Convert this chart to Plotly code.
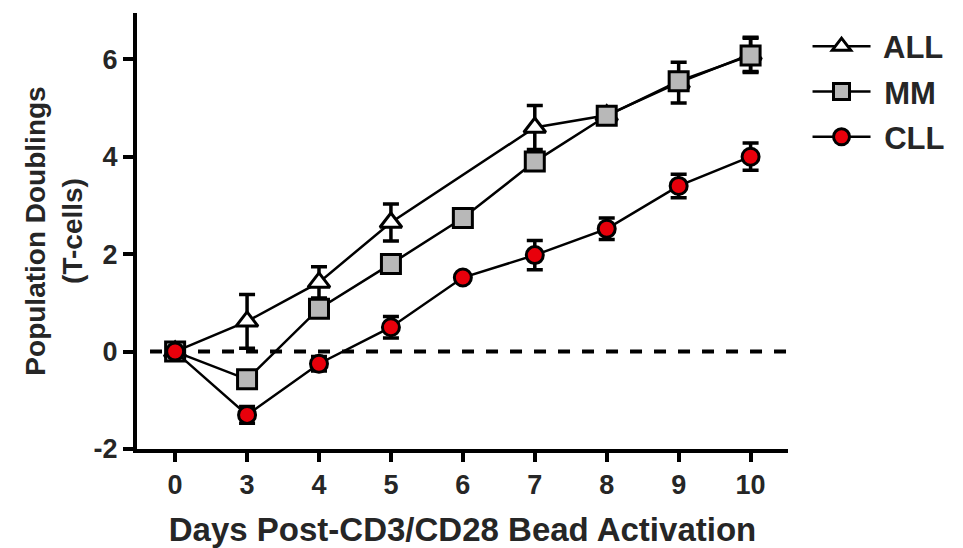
import plotly.graph_objects as go

days = ["0", "3", "4", "5", "6", "7", "8", "9", "10"]
all_vals = [0.0, 0.62, 1.42, 2.65, None, 4.6, 4.85, 5.52, 6.1]
all_err = [0.0, 0.55, 0.32, 0.38, None, 0.45, 0.0, 0.42, 0.35]
mm_vals = [0.0, -0.57, 0.88, 1.8, 2.74, 3.9, 4.84, 5.55, 6.08]
mm_err = [0.0, 0.0, 0.0, 0.0, 0.0, 0.0, 0.0, 0.0, 0.35]
cll_vals = [0.0, -1.3, -0.25, 0.5, 1.52, 1.98, 2.52, 3.4, 4.0]
cll_err = [0.0, 0.17, 0.15, 0.22, 0.08, 0.3, 0.22, 0.24, 0.28]

y_ticks = [-2, 0, 2, 4, 6]

idx = list(range(len(days)))

def xs(vals):
    return [i for i, v in zip(idx, vals) if v is not None]

def ys(vals):
    return [v for v in vals if v is not None]

def es(vals, errs):
    return [e for v, e in zip(vals, errs) if v is not None]

FONT = "Liberation Sans, Arial, sans-serif"
TXT = "#262626"

fig = go.Figure()

fig.add_shape(type="line", xref="paper", yref="y", x0=0.02, x1=1.0, y0=0, y1=0,
              line=dict(color="black", width=4, dash="dash"), layer="below")

series = [
    ("ALL", all_vals, all_err, dict(symbol="triangle-up", size=19, color="white",
                                     line=dict(color="black", width=3))),
    ("MM", mm_vals, mm_err, dict(symbol="square", size=19, color="#b8b8b8",
                                  line=dict(color="black", width=3))),
    ("CLL", cll_vals, cll_err, dict(symbol="circle", size=17, color="#e8000b",
                                     line=dict(color="black", width=3))),
]

for name, vals, errs, mk in series:
    fig.add_trace(go.Scatter(
        x=xs(vals), y=ys(vals), name=" " + name, mode="lines+markers",
        legendgroup=name,
        line=dict(color="black", width=2.5),
        marker=mk,
        error_y=dict(type="data", array=es(vals, errs), visible=True,
                     color="black", thickness=3.5, width=8),
        connectgaps=True,
    ))

fig.update_layout(
    width=963, height=548,
    margin=dict(l=137, r=175, t=13, b=99, autoexpand=False),
    paper_bgcolor="white", plot_bgcolor="white",
    font=dict(family=FONT, color=TXT, size=27),
    showlegend=True,
    legend=dict(x=1.03, y=0.985, xanchor="left", yanchor="top",
                font=dict(size=31, color=TXT, family=FONT, weight="bold"),
                itemwidth=58,
                tracegroupgap=2, bgcolor="rgba(0,0,0,0)"),
    xaxis=dict(
        range=[-0.53, 8.52], tickmode="array", tickvals=idx, ticktext=days,
        showline=True, linecolor="black", linewidth=4, automargin=False,
        ticks="outside", ticklen=9, tickwidth=3.5, tickcolor="black",
        showgrid=False, zeroline=False,
        tickfont=dict(size=27, color=TXT, weight="bold"),
        title=dict(text="Days Post-CD3/CD28 Bead Activation",
                   font=dict(size=33, color=TXT, weight="bold"), standoff=20),
    ),
    yaxis=dict(
        range=[-2, 6.95], tickmode="array", tickvals=y_ticks,
        ticktext=[str(t) for t in y_ticks],
        showline=True, linecolor="black", linewidth=4, automargin=False,
        ticks="outside", ticklen=10, tickwidth=3.5, tickcolor="black",
        showgrid=False, zeroline=False,
        tickfont=dict(size=27, color=TXT, weight="bold"),
        title=dict(text="Population Doublings<br>(T-cells)",
                   font=dict(size=28, color=TXT, weight="bold"), standoff=4),
    ),
)

fig.write_html("out.html")
